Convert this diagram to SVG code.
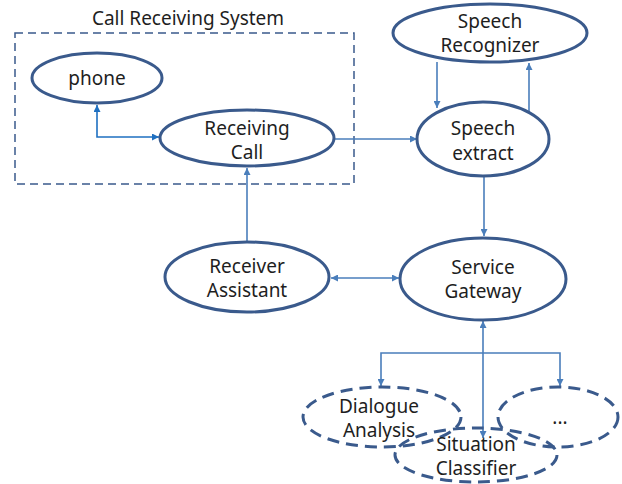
<svg xmlns="http://www.w3.org/2000/svg" width="622" height="484" viewBox="0 0 622 484">
  <defs>
    <marker id="arr" viewBox="0 0 10 10" refX="10" refY="5" markerWidth="7" markerHeight="7" orient="auto-start-reverse" markerUnits="userSpaceOnUse">
      <path d="M0,0 L10,5 L0,10 z" fill="#4a7ebb"/>
    </marker>
    <marker id="arrb" viewBox="0 0 10 10" refX="10" refY="5" markerWidth="7" markerHeight="7" orient="auto-start-reverse" markerUnits="userSpaceOnUse">
      <path d="M0,0 L10,5 L0,10 z" fill="#1f70c1"/>
    </marker>
  </defs>
  <style>
    .node { fill: #ffffff; stroke: #3a5a8c; stroke-width: 3; }
    .dnode { fill: none; stroke: #3a5a8c; stroke-width: 3; stroke-dasharray: 12 7; }
    .frame { fill: none; stroke: #3a5a8c; stroke-width: 1.5; stroke-dasharray: 8 5; }
    .lbl { font-family: "Noto Sans", "Open Sans", sans-serif; font-size: 19px; fill: #1e1e1e; text-anchor: middle; }
    .con { fill: none; stroke: #4a7ebb; stroke-width: 1.6; }
    .conb { fill: none; stroke: #1f70c1; stroke-width: 1.6; }
  </style>

  <!-- system boundary -->
  <g id="call-receiving-system">
    <rect class="frame" x="15" y="33" width="339" height="151"/>
    <text class="lbl" x="188" y="25">Call Receiving System</text>
  </g>

  <!-- connectors -->
  <g id="connectors">
    <path class="conb" d="M97,105 V137 H159" marker-start="url(#arrb)" marker-end="url(#arrb)"/>
    <path class="con" d="M335,139 H417" marker-end="url(#arr)"/>
    <path class="con" d="M247,242 V168" marker-end="url(#arr)"/>
    <path class="con" d="M437,62 V108" marker-end="url(#arr)"/>
    <path class="con" d="M529,112 V63" marker-end="url(#arr)"/>
    <path class="con" d="M484,175 V236" marker-end="url(#arr)"/>
    <path class="con" d="M331,278 H399" marker-start="url(#arr)" marker-end="url(#arr)"/>
    <path class="con" d="M483,321 V438" marker-start="url(#arr)" marker-end="url(#arr)"/>
    <path class="con" d="M483,353 H381 V386" marker-end="url(#arr)"/>
    <path class="con" d="M483,353 H560 V386" marker-end="url(#arr)"/>
  </g>

  <g id="phone">
    <ellipse class="node" cx="97" cy="78" rx="65" ry="25"/>
    <text class="lbl" x="97" y="85">phone</text>
  </g>

  <g id="receiving-call">
    <ellipse class="node" cx="247" cy="138" rx="87" ry="28"/>
    <text class="lbl" x="247" y="135">Receiving</text>
    <text class="lbl" x="247" y="159">Call</text>
  </g>

  <g id="speech-recognizer">
    <ellipse class="node" cx="490" cy="33" rx="97" ry="29"/>
    <text class="lbl" x="490" y="28">Speech</text>
    <text class="lbl" x="490" y="52">Recognizer</text>
  </g>

  <g id="speech-extract">
    <ellipse class="node" cx="483" cy="139" rx="66" ry="37"/>
    <text class="lbl" x="483" y="135">Speech</text>
    <text class="lbl" x="483" y="160">extract</text>
  </g>

  <g id="receiver-assistant">
    <ellipse class="node" cx="247" cy="277" rx="82" ry="35"/>
    <text class="lbl" x="247" y="273">Receiver</text>
    <text class="lbl" x="247" y="297">Assistant</text>
  </g>

  <g id="service-gateway">
    <ellipse class="node" cx="483" cy="279" rx="83" ry="41"/>
    <text class="lbl" x="483" y="274">Service</text>
    <text class="lbl" x="483" y="298">Gateway</text>
  </g>

  <g id="dialogue-analysis">
    <ellipse class="dnode" cx="382" cy="417" rx="79" ry="30"/>
    <text class="lbl" x="379" y="413">Dialogue</text>
    <text class="lbl" x="379" y="437">Analysis</text>
  </g>

  <g id="more">
    <ellipse class="dnode" cx="558" cy="417" rx="60" ry="30"/>
    <text class="lbl" x="560" y="424">...</text>
  </g>

  <g id="situation-classifier">
    <ellipse class="dnode" cx="476" cy="455" rx="81" ry="27"/>
    <text class="lbl" x="476" y="451">Situation</text>
    <text class="lbl" x="476" y="475">Classifier</text>
  </g>
</svg>
